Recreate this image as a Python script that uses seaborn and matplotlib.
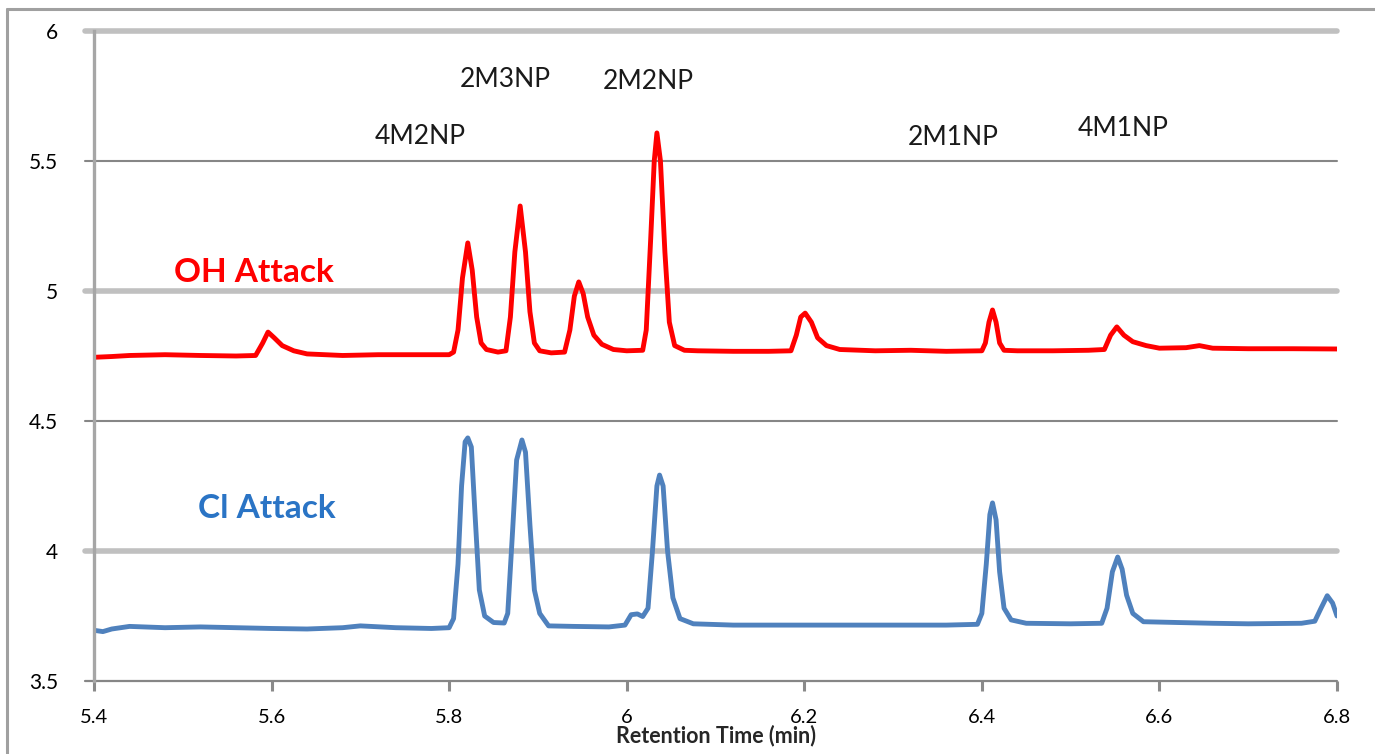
import matplotlib
matplotlib.use("Agg")
import matplotlib.pyplot as plt
import seaborn as sns
import pandas as pd
from matplotlib.lines import Line2D

# ---------------- data ----------------
oh_time = [5.400, 5.420, 5.440, 5.480, 5.520, 5.560, 5.582, 5.590, 5.596, 5.603,
           5.612, 5.625, 5.640, 5.680, 5.720, 5.760, 5.800, 5.805, 5.810, 5.815,
           5.821, 5.826, 5.831, 5.836, 5.842, 5.855, 5.864, 5.869, 5.874, 5.880,
           5.886, 5.891, 5.896, 5.902, 5.915, 5.930, 5.936, 5.941, 5.946, 5.951,
           5.956, 5.963, 5.972, 5.985, 6.000, 6.018, 6.022, 6.027, 6.031, 6.034,
           6.038, 6.043, 6.048, 6.054, 6.065, 6.080, 6.120, 6.160, 6.185, 6.191,
           6.196, 6.201, 6.208, 6.215, 6.225, 6.240, 6.280, 6.320, 6.360, 6.400,
           6.404, 6.408, 6.412, 6.416, 6.420, 6.425, 6.440, 6.480, 6.520, 6.538,
           6.545, 6.552, 6.560, 6.570, 6.585, 6.600, 6.630, 6.645, 6.660, 6.700,
           6.750, 6.800]
oh_signal = [4.745, 4.748, 4.752, 4.755, 4.752, 4.750, 4.752, 4.800, 4.842, 4.820,
             4.790, 4.770, 4.758, 4.752, 4.755, 4.755, 4.755, 4.765, 4.850, 5.050,
             5.185, 5.080, 4.900, 4.800, 4.775, 4.765, 4.770, 4.900, 5.150, 5.327,
             5.150, 4.920, 4.800, 4.770, 4.762, 4.765, 4.850, 4.980, 5.035, 4.990,
             4.900, 4.830, 4.795, 4.775, 4.770, 4.772, 4.850, 5.200, 5.500, 5.608,
             5.500, 5.150, 4.880, 4.790, 4.772, 4.770, 4.768, 4.768, 4.770, 4.830,
             4.900, 4.915, 4.880, 4.820, 4.790, 4.775, 4.770, 4.772, 4.768, 4.770,
             4.800, 4.880, 4.927, 4.880, 4.800, 4.772, 4.770, 4.770, 4.772, 4.775,
             4.830, 4.862, 4.830, 4.805, 4.790, 4.780, 4.782, 4.790, 4.780, 4.778,
             4.778, 4.777]

cl_time = [5.400, 5.410, 5.420, 5.440, 5.480, 5.520, 5.560, 5.600, 5.640, 5.680,
           5.700, 5.740, 5.780, 5.800, 5.805, 5.810, 5.814, 5.818, 5.821, 5.825,
           5.829, 5.834, 5.840, 5.850, 5.862, 5.866, 5.871, 5.876, 5.882, 5.886,
           5.891, 5.896, 5.902, 5.912, 5.940, 5.980, 5.998, 6.005, 6.012, 6.018,
           6.024, 6.029, 6.034, 6.037, 6.041, 6.046, 6.052, 6.060, 6.075, 6.120,
           6.200, 6.280, 6.360, 6.395, 6.400, 6.405, 6.409, 6.412, 6.416, 6.420,
           6.425, 6.433, 6.450, 6.500, 6.535, 6.541, 6.547, 6.553, 6.558, 6.563,
           6.570, 6.582, 6.620, 6.660, 6.700, 6.760, 6.775, 6.782, 6.789, 6.795,
           6.800]
cl_signal = [3.695, 3.690, 3.700, 3.710, 3.705, 3.708, 3.705, 3.702, 3.700, 3.705,
             3.712, 3.705, 3.702, 3.705, 3.740, 3.950, 4.250, 4.420, 4.435, 4.400,
             4.150, 3.850, 3.750, 3.725, 3.723, 3.760, 4.050, 4.350, 4.427, 4.380,
             4.100, 3.850, 3.760, 3.712, 3.710, 3.708, 3.715, 3.755, 3.758, 3.748,
             3.780, 4.000, 4.250, 4.292, 4.250, 4.000, 3.820, 3.740, 3.720, 3.715,
             3.715, 3.715, 3.715, 3.718, 3.760, 3.950, 4.140, 4.185, 4.120, 3.920,
             3.780, 3.735, 3.722, 3.720, 3.722, 3.780, 3.920, 3.977, 3.930, 3.830,
             3.760, 3.728, 3.725, 3.722, 3.720, 3.722, 3.730, 3.780, 3.828, 3.800,
             3.750]

peak_names = ["4M2NP", "2M3NP", "2M2NP", "2M1NP", "4M1NP"]
peak_label_x = [5.767, 5.863, 6.024, 6.368, 6.559]
peak_label_y = [5.595, 5.815, 5.805, 5.590, 5.625]

series_names = ["OH Attack", "Cl Attack"]
x_ticks = [5.4, 5.6, 5.8, 6.0, 6.2, 6.4, 6.6, 6.8]
x_tick_labels = ["5.4", "5.6", "5.8", "6", "6.2", "6.4", "6.6", "6.8"]
y_ticks = [3.5, 4.0, 4.5, 5.0, 5.5, 6.0]
y_tick_labels = ["3.5", "4", "4.5", "5", "5.5", "6"]

# ---------------- build table ----------------
df = pd.concat([
    pd.DataFrame({"time": oh_time, "signal": oh_signal, "series": series_names[0]}),
    pd.DataFrame({"time": cl_time, "signal": cl_signal, "series": series_names[1]}),
], ignore_index=True)

sns.set_theme(style="white")
plt.rcParams["font.family"] = ["Lato", "DejaVu Sans"]

W, H = 1375, 754
fig = plt.figure(figsize=(W / 100, H / 100), dpi=100)
ax = fig.add_axes([94 / W, 1 - 681 / H, (1337 - 94) / W, (681 - 31) / H])

# gridlines
for yv in [4.0, 5.0, 6.0]:
    ax.axhline(yv, color="#c0c0c0", lw=4.0, zorder=1, xmin=-0.007, clip_on=False)
for yv in [4.5, 5.5]:
    ax.axhline(yv, color="#868686", lw=1.5, zorder=1, xmin=-0.007, clip_on=False)
ax.axhline(3.5, color="#868686", lw=1.6, zorder=2, xmin=-0.007, clip_on=False)

palette = {"OH Attack": "#ff0000", "Cl Attack": "#4f81bd"}
sns.lineplot(data=df, x="time", y="signal", hue="series", palette=palette,
             estimator=None, sort=False, lw=3.5, legend=False, ax=ax, zorder=3)

ax.set_xlim(5.4, 6.8)
ax.set_ylim(3.5, 6.0)
ax.set_xticks(x_ticks)
ax.set_xticklabels(x_tick_labels)
ax.set_yticks(y_ticks)
ax.set_yticklabels(y_tick_labels)

for s in ["top", "right", "bottom"]:
    ax.spines[s].set_visible(False)
ax.spines["left"].set_color("#a6a6a6")
ax.spines["left"].set_linewidth(2.4)
ax.spines["left"].set_zorder(4)

ax.tick_params(axis="y", length=0, pad=26, labelsize=15, labelcolor="black")
ax.tick_params(axis="x", length=7, width=2.2, color="#8a8a8a", direction="out",
               pad=13, labelsize=14.5, labelcolor="black", bottom=True)
ax.grid(False)

ax.set_xlabel("Retention Time (min)", fontsize=15.5, fontweight="bold", labelpad=-1)
ax.set_ylabel("")

# peak labels
for name, px, py in zip(peak_names, peak_label_x, peak_label_y):
    ax.text(px, py, name, ha="center", va="center", fontsize=19, color="#1a1a1a")

# series labels
ax.text(5.580, 5.07, "OH Attack", ha="center", va="center", fontsize=24,
        fontweight="bold", color="#ff0000")
ax.text(5.595, 4.165, "Cl Attack", ha="center", va="center", fontsize=24,
        fontweight="bold", color="#2a74c5")

# outer chart border (top and left edges visible)
fig.add_artist(Line2D([7 / W, 7 / W], [0, 1 - 9 / H], transform=fig.transFigure,
                      color="#a0a0a0", lw=2.2))
fig.add_artist(Line2D([7 / W, 1], [1 - 9 / H, 1 - 9 / H], transform=fig.transFigure,
                      color="#a0a0a0", lw=2.2))

fig.savefig("out.png", dpi=100)
